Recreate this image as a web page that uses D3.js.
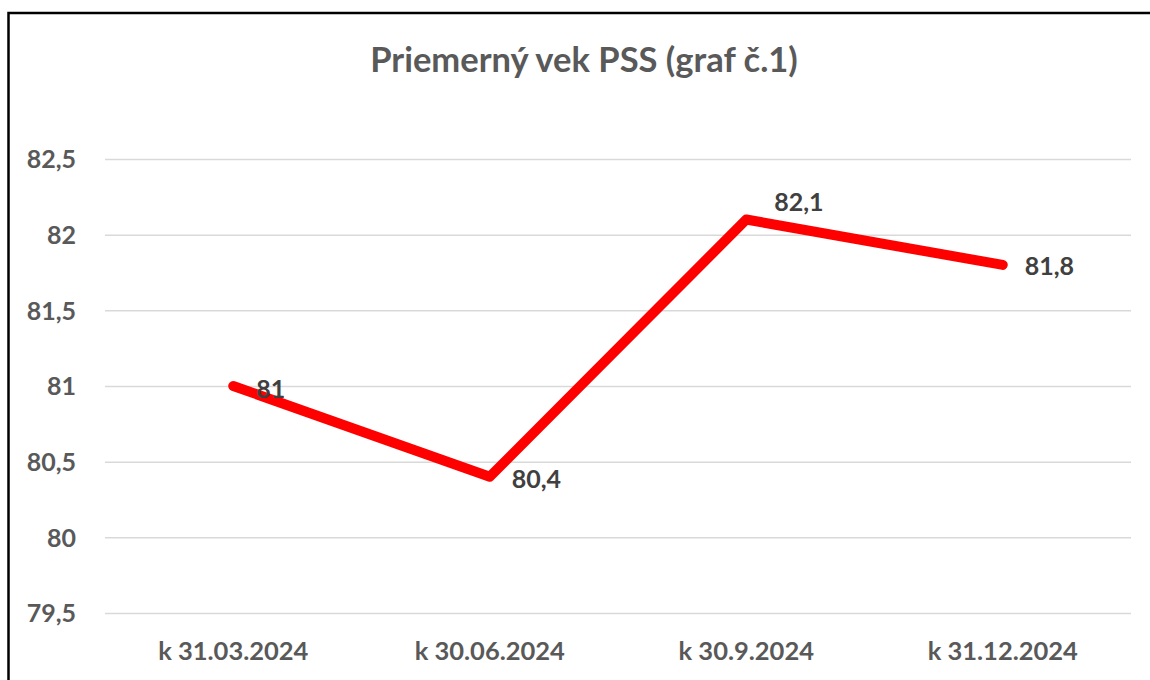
<!DOCTYPE html>
<html>
<head>
<meta charset="utf-8">
<script src="https://cdn.jsdelivr.net/npm/d3@7/dist/d3.min.js"></script>
<style>
  html, body { margin: 0; padding: 0; background: #fff; }
  svg { display: block; }
</style>
</head>
<body>
<svg id="chart" width="1150" height="680"></svg>
<script>
const title = "Priemerný vek PSS (graf č.1)";
const categories = ["k 31.03.2024", "k 30.06.2024", "k 30.9.2024", "k 31.12.2024"];
const values = [81, 80.4, 82.1, 81.8];
const valueLabels = ["81", "80,4", "82,1", "81,8"];
const yTicks = [79.5, 80, 80.5, 81, 81.5, 82, 82.5];
const yTickLabels = ["79,5", "80", "80,5", "81", "81,5", "82", "82,5"];

// label placement offsets (style, not data)
const labelDx = [23, 22, 28, 22];
const labelDy = [2, 1, -19, 0];

const FONT = "Lato, 'Open Sans', sans-serif";
const svg = d3.select("#chart");

// chart frame
svg.append("rect")
  .attr("x", 8.5).attr("y", 13)
  .attr("width", 1200).attr("height", 700)
  .attr("fill", "none").attr("stroke", "#000").attr("stroke-width", 2.5);

const plot = { left: 105, right: 1131, top: 159, bottom: 613 };

const x = d3.scaleBand().domain(categories).range([plot.left, plot.right]).padding(0);
const y = d3.scaleLinear().domain([79.5, 82.5]).range([plot.bottom, plot.top]);

// title
svg.append("text")
  .attr("x", 584).attr("y", 58)
  .attr("text-anchor", "middle").attr("dominant-baseline", "central")
  .attr("font-family", FONT).attr("font-weight", 700).attr("font-size", 34.5)
  .attr("fill", "#595959")
  .text(title);

// gridlines + y labels via axis
const yAxis = d3.axisLeft(y)
  .tickValues(yTicks)
  .tickSize(-(plot.right - plot.left))
  .tickPadding(29)
  .tickFormat((d, i) => yTickLabels[i]);

const gy = svg.append("g")
  .attr("transform", `translate(${plot.left},0)`)
  .call(yAxis);
gy.select(".domain").remove();
gy.selectAll(".tick line").attr("stroke", "#d9d9d9").attr("stroke-width", 1.5);
gy.selectAll(".tick text")
  .attr("font-family", FONT).attr("font-weight", 700).attr("font-size", 25)
  .attr("fill", "#595959").attr("dy", "0.35em");

// x axis labels
const xAxis = d3.axisBottom(x).tickSize(0).tickPadding(0);
const gx = svg.append("g")
  .attr("transform", `translate(0,${plot.bottom})`)
  .call(xAxis);
gx.select(".domain").remove();
gx.selectAll(".tick text")
  .attr("y", 38).attr("dy", "0.35em")
  .attr("font-family", FONT).attr("font-weight", 700).attr("font-size", 25.5)
  .attr("fill", "#595959");

// line
const pts = categories.map((c, i) => ({ c, v: values[i], i }));
const line = d3.line()
  .x(d => x(d.c) + x.bandwidth() / 2)
  .y(d => y(d.v));

svg.append("path")
  .datum(pts)
  .attr("d", line)
  .attr("fill", "none")
  .attr("stroke", "#ff0000")
  .attr("stroke-width", 10)
  .attr("stroke-linecap", "round")
  .attr("stroke-linejoin", "round");

// data labels
svg.append("g").selectAll("text")
  .data(pts)
  .join("text")
  .attr("x", d => x(d.c) + x.bandwidth() / 2 + labelDx[d.i])
  .attr("y", d => y(d.v) + labelDy[d.i])
  .attr("dominant-baseline", "central")
  .attr("font-family", FONT).attr("font-weight", 700).attr("font-size", 25)
  .attr("fill", "#404040")
  .text(d => valueLabels[d.i]);
</script>
</body>
</html>
